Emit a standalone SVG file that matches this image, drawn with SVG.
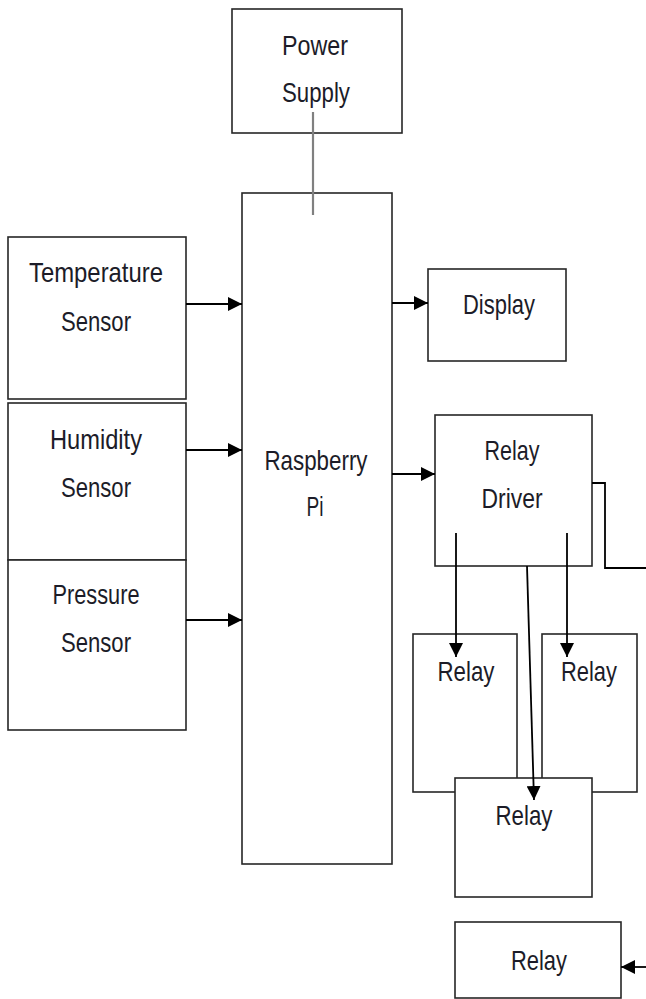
<svg xmlns="http://www.w3.org/2000/svg" width="646" height="999" viewBox="0 0 646 999">
<style>
.box{fill:#fff;stroke:#262626;stroke-width:1.6}
.lbl{font-family:"Liberation Sans",Arial,sans-serif;font-size:28px;fill:#1c1c28;text-anchor:middle}
.con{stroke:#000;stroke-width:1.8;fill:none}
.pwr{stroke:#808080;stroke-width:2.2;fill:none}
</style>
<defs>
<marker id="ah" viewBox="0 0 14 14" refX="14" refY="7" markerWidth="14" markerHeight="14" markerUnits="userSpaceOnUse" orient="auto">
<path d="M0,0 L14,7 L0,14 z" fill="#000"/>
</marker>
</defs>
<rect width="646" height="999" fill="#fff"/>
<g id="power-supply">
<rect class="box" x="232" y="9" width="170" height="124"/>
<text class="lbl" x="315" y="55" textLength="66" lengthAdjust="spacingAndGlyphs">Power</text>
<text class="lbl" x="316" y="102" textLength="68" lengthAdjust="spacingAndGlyphs">Supply</text>
</g>
<g id="raspberry-pi">
<rect class="box" x="242" y="193" width="150" height="671"/>
<text class="lbl" x="316" y="470" textLength="103" lengthAdjust="spacingAndGlyphs">Raspberry</text>
<text class="lbl" x="315" y="516" textLength="17" lengthAdjust="spacingAndGlyphs">Pi</text>
</g>
<g id="temperature-sensor">
<rect class="box" x="8" y="237" width="178" height="162"/>
<text class="lbl" x="96" y="282" textLength="134" lengthAdjust="spacingAndGlyphs">Temperature</text>
<text class="lbl" x="96" y="331" textLength="70" lengthAdjust="spacingAndGlyphs">Sensor</text>
</g>
<g id="humidity-sensor">
<rect class="box" x="8" y="403" width="178" height="157"/>
<text class="lbl" x="96" y="449" textLength="92" lengthAdjust="spacingAndGlyphs">Humidity</text>
<text class="lbl" x="96" y="497" textLength="70" lengthAdjust="spacingAndGlyphs">Sensor</text>
</g>
<g id="pressure-sensor">
<rect class="box" x="8" y="560" width="178" height="170"/>
<text class="lbl" x="96" y="604" textLength="87" lengthAdjust="spacingAndGlyphs">Pressure</text>
<text class="lbl" x="96" y="652" textLength="70" lengthAdjust="spacingAndGlyphs">Sensor</text>
</g>
<g id="display">
<rect class="box" x="428" y="269" width="138" height="92"/>
<text class="lbl" x="499" y="314" textLength="72" lengthAdjust="spacingAndGlyphs">Display</text>
</g>
<g id="relay-driver">
<rect class="box" x="435" y="415" width="157" height="151"/>
<text class="lbl" x="512" y="460" textLength="55" lengthAdjust="spacingAndGlyphs">Relay</text>
<text class="lbl" x="512" y="508" textLength="61" lengthAdjust="spacingAndGlyphs">Driver</text>
</g>
<g id="relay-1">
<rect class="box" x="413" y="634" width="104" height="158"/>
<text class="lbl" x="466" y="681" textLength="57" lengthAdjust="spacingAndGlyphs">Relay</text>
</g>
<g id="relay-2">
<rect class="box" x="542" y="634" width="95" height="158"/>
<text class="lbl" x="589" y="681" textLength="56" lengthAdjust="spacingAndGlyphs">Relay</text>
</g>
<g id="relay-3">
<rect class="box" x="455" y="778" width="137" height="119"/>
<text class="lbl" x="524" y="825" textLength="57" lengthAdjust="spacingAndGlyphs">Relay</text>
</g>
<g id="relay-4">
<rect class="box" x="455" y="922" width="166" height="76"/>
<text class="lbl" x="539" y="970" textLength="56" lengthAdjust="spacingAndGlyphs">Relay</text>
</g>
<g id="connectors">
<line class="pwr" x1="313" y1="112" x2="313" y2="215"/>
<line class="con" x1="186" y1="304" x2="242" y2="304" marker-end="url(#ah)"/>
<line class="con" x1="186" y1="450" x2="242" y2="450" marker-end="url(#ah)"/>
<line class="con" x1="186" y1="620" x2="242" y2="620" marker-end="url(#ah)"/>
<line class="con" x1="392" y1="303" x2="428" y2="303" marker-end="url(#ah)"/>
<line class="con" x1="392" y1="474" x2="435" y2="474" marker-end="url(#ah)"/>
<line class="con" x1="456" y1="533" x2="456" y2="657" marker-end="url(#ah)"/>
<line class="con" x1="567" y1="533" x2="567" y2="657" marker-end="url(#ah)"/>
<line class="con" x1="527" y1="566" x2="534" y2="800" marker-end="url(#ah)" stroke-width="1.4"/>
<polyline class="con" points="592,483 605,483 605,568 646,568" stroke-width="1.5"/>
<line class="con" x1="646" y1="967" x2="621" y2="967" marker-end="url(#ah)"/>
</g>
</svg>
